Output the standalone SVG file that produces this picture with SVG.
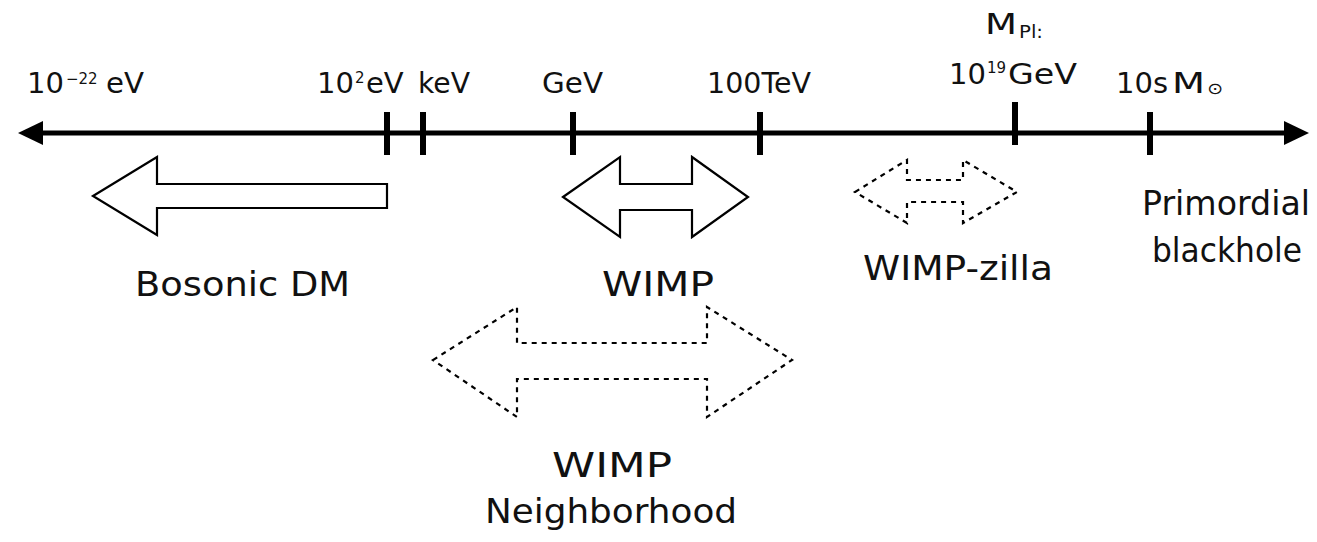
<svg xmlns="http://www.w3.org/2000/svg" width="1317" height="542" viewBox="0 0 1317 542">
<style>
text{font-family:"DejaVu Sans","Liberation Sans",sans-serif;fill:#111}
.top{font-size:29px}
.sup{font-size:15px}
.low{font-size:34px}
.tick{stroke:#000;stroke-width:6}
.solid{fill:#fff;stroke:#000;stroke-width:2.2;stroke-linejoin:miter}
.dash{fill:#fff;stroke:#000;stroke-width:2.2;stroke-dasharray:5 5}
</style>
<rect width="1317" height="542" fill="#fff"/>
<g id="connectors">
  <g id="axis">
    <line x1="38" y1="133" x2="1290" y2="133" stroke="#000" stroke-width="5"/>
    <polygon points="18,133 43,121 43,145" fill="#000"/>
    <polygon points="1309,133 1284,121 1284,145" fill="#000"/>
  </g>
  <g id="ticks">
    <line class="tick" x1="387" y1="112" x2="387" y2="155"/>
    <line class="tick" x1="423" y1="112" x2="423" y2="155"/>
    <line class="tick" x1="573" y1="112" x2="573" y2="155"/>
    <line class="tick" x1="760" y1="112" x2="760" y2="155"/>
    <line class="tick" x1="1015" y1="102" x2="1015" y2="145"/>
    <line class="tick" x1="1150" y1="112" x2="1150" y2="155"/>
  </g>
</g>
<g id="label-1e-22eV">
  <text class="top" y="93"><tspan x="27">10</tspan><tspan class="sup" x="66" y="84">−22</tspan><tspan x="106" y="93" textLength="38" lengthAdjust="spacingAndGlyphs">eV</tspan></text>
</g>
<g id="label-1e2eV">
  <text class="top" y="93"><tspan x="317">10</tspan><tspan class="sup" x="355" y="83">2</tspan><tspan x="366" y="93">eV</tspan></text>
</g>
<g id="label-keV"><text class="top" x="418" y="93" textLength="52" lengthAdjust="spacingAndGlyphs">keV</text></g>
<g id="label-GeV"><text class="top" x="542" y="93" textLength="61" lengthAdjust="spacingAndGlyphs">GeV</text></g>
<g id="label-100TeV"><text class="top" x="707" y="93" textLength="104" lengthAdjust="spacingAndGlyphs">100TeV</text></g>
<g id="label-MPl">
  <text class="top" y="34"><tspan x="985" textLength="32" lengthAdjust="spacingAndGlyphs">M</tspan><tspan x="1019" y="38" style="font-size:18px" textLength="24" lengthAdjust="spacingAndGlyphs">Pl:</tspan></text>
  <text class="top" y="84"><tspan x="949">10</tspan><tspan class="sup" x="987" y="73">19</tspan><tspan x="1008" y="84" textLength="69" lengthAdjust="spacingAndGlyphs">GeV</tspan></text>
</g>
<g id="label-10sMsun">
  <text class="top" y="93"><tspan x="1116">10s</tspan><tspan x="1172" textLength="33" lengthAdjust="spacingAndGlyphs">M</tspan><tspan x="1207" y="94" style="font-size:16px" textLength="16" lengthAdjust="spacingAndGlyphs">⊙</tspan></text>
</g>
<g id="bosonic-dm">
  <polygon class="solid" points="93,196 157,157 157,184 387,184 387,208 157,208 157,235"/>
  <text class="low" x="135" y="296" textLength="215" lengthAdjust="spacingAndGlyphs">Bosonic DM</text>
</g>
<g id="wimp">
  <polygon class="solid" points="563,197 620,157 620,184 692,184 692,157 748,197 692,237 692,210 620,210 620,237"/>
  <text class="low" x="602" y="296" textLength="112" lengthAdjust="spacingAndGlyphs">WIMP</text>
</g>
<g id="wimp-zilla">
  <polygon class="dash" points="855,192 907,160 907,180 963,180 963,160 1017,192 963,223 963,202 907,202 907,223"/>
  <text class="low" x="863" y="280" textLength="190" lengthAdjust="spacingAndGlyphs">WIMP-zilla</text>
</g>
<g id="primordial-blackhole">
  <text class="low" x="1142" y="215" textLength="168" lengthAdjust="spacingAndGlyphs">Primordial</text>
  <text class="low" x="1152" y="262" textLength="150" lengthAdjust="spacingAndGlyphs">blackhole</text>
</g>
<g id="wimp-neighborhood">
  <polygon class="dash" points="433,360 517,307 517,343 707,343 707,307 792,360 707,417 707,379 517,379 517,417"/>
  <text class="low" x="552" y="477" textLength="120" lengthAdjust="spacingAndGlyphs">WIMP</text>
  <text class="low" x="485" y="523" textLength="252" lengthAdjust="spacingAndGlyphs">Neighborhood</text>
</g>
</svg>
